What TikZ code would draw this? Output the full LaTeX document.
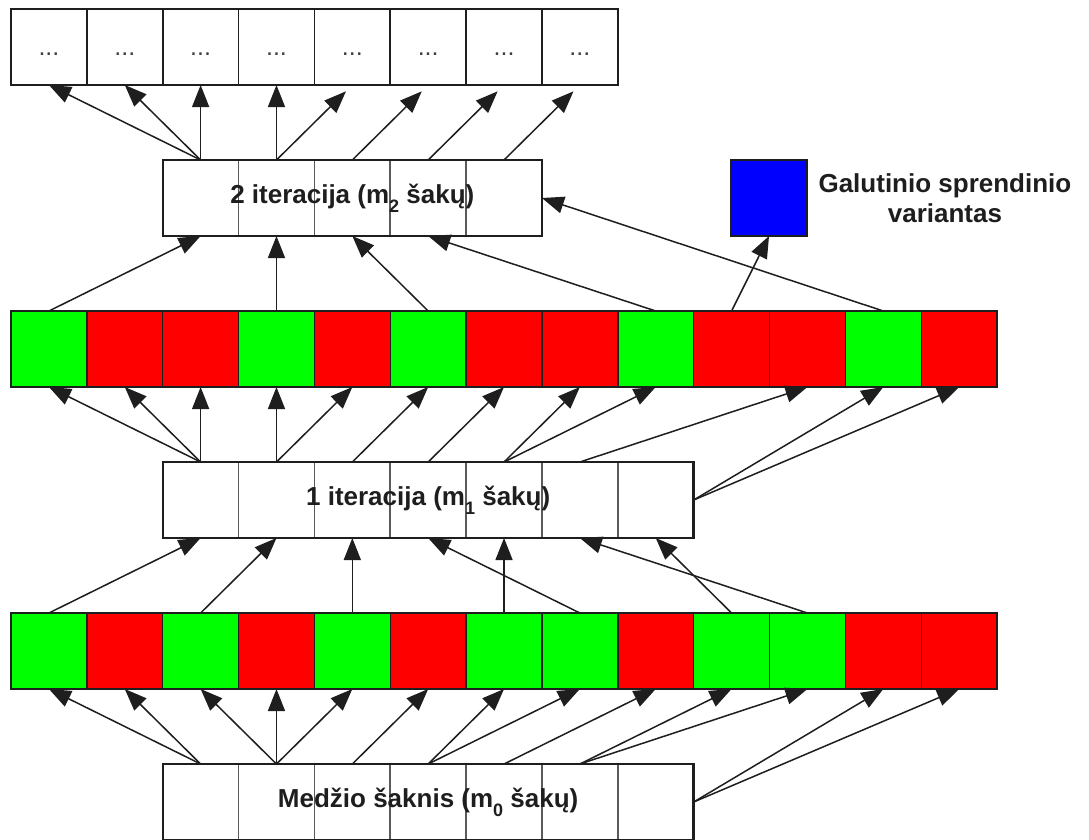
\documentclass[tikz,border=0pt]{standalone}
\usepackage{fontspec}
\setmainfont{Liberation Sans}
\usetikzlibrary{arrows.meta}
\definecolor{colg}{RGB}{0,255,0}
\definecolor{colr}{RGB}{255,0,0}
\definecolor{colb}{RGB}{0,0,255}
\definecolor{ink}{RGB}{30,30,30}
\definecolor{divider}{RGB}{90,90,90}
\def\cw{75.85}

\begin{document}
\begin{tikzpicture}[x=1pt,y=-1pt,
  cell/.style={draw=ink, line width=1.4pt, minimum width=\cw pt, minimum height=76pt,
    inner sep=0pt, outer sep=0pt, anchor=north west},
  wcell/.style={cell, fill=white, draw=divider, line width=1.7pt},
  frame/.style={draw=ink, line width=2.4pt, inner sep=0pt, outer sep=0pt,
    minimum height=76pt, anchor=north west},
  boxlabel/.style={font=\fontsize{26}{30}\selectfont\bfseries, text=ink},
  dotlabel/.style={font=\fontsize{25}{25}\selectfont, text=ink!85},
  arr/.style={draw=ink, line width=1.5pt, -{Triangle[length=22pt,width=17pt]}},
  short/.style={arr, shorten >=9pt}
]
\useasboundingbox (0,0) rectangle (1089,839);
\fill[white] (0,0) rectangle (1089,839);

% top row of unexplored branches
\foreach \i in {0,...,7}{
  \node[wcell, draw=ink] (t\i) at ({11+\cw*\i},9) {};
  \node[dotlabel, yshift=-7pt] (d\i) at (t\i.center) {...};
}
\node[frame, minimum width=8*\cw pt] (toprow) at (11,9) {};

% second iteration
\foreach \i in {0,...,4}
  \node[wcell] (p\i) at ({11+\cw*(\i+2)},160) {};
\node[frame, minimum width=5*\cw pt, boxlabel] (b2) at ({11+2*\cw},160)
  {2 iteracija (m\raisebox{-9pt}{\fontsize{18}{18}\selectfont 2} šakų)};

% final solution
\node[cell, fill=colb, line width=1.9pt, minimum width=76pt] (blue) at (731,160) {};
\node[boxlabel, anchor=west, align=center] (lbl) at (815,198)
  {Galutinio sprendinio\\variantas};

% evaluated branches after the first iteration
\foreach \c [count=\i from 0] in {g,r,r,g,r,g,r,r,g,r,r,g,r}
  \node[cell, fill=col\c] (m\i) at ({11+\cw*\i},311) {};
\node[frame, minimum width=13*\cw pt, line width=1.9pt] (r2row) at (11,311) {};

% first iteration
\foreach \i in {0,...,6}
  \node[wcell] (q\i) at ({11+\cw*(\i+2)},462) {};
\node[frame, minimum width=7*\cw pt, boxlabel] (b1) at ({11+2*\cw},462)
  {1 iteracija (m\raisebox{-9pt}{\fontsize{18}{18}\selectfont 1} šakų)};

% evaluated branches of the root
\foreach \c [count=\i from 0] in {g,r,g,r,g,r,g,g,r,g,g,r,r}
  \node[cell, fill=col\c] (n\i) at ({11+\cw*\i},613) {};
\node[frame, minimum width=13*\cw pt, line width=1.9pt] (r1row) at (11,613) {};

% tree root
\foreach \i in {0,...,6}
  \node[wcell] (s\i) at ({11+\cw*(\i+2)},764) {};
\node[frame, minimum width=7*\cw pt, boxlabel] (root) at ({11+2*\cw},764)
  {Medžio šaknis (m\raisebox{-9pt}{\fontsize{18}{18}\selectfont 0} šakų)};

% root -> first level branches
\foreach \a/\b in {s0/n0,s0/n1,s1/n2,s1/n3,s1/n4,s2/n5,s3/n6,s3/n7,s4/n8,s5/n9,s5/n10}
  \draw[arr] (\a.north) -- (\b.south);
\foreach \b in {n11,n12}
  \draw[arr] (root.east) -- (\b.south);

% good branches -> first iteration
\foreach \a/\b in {n0/q0,n2/q1,n4/q2,n7/q3,n6/q4,n10/q5,n9/q6}
  \draw[arr] (\a.north) -- (\b.south);

% first iteration -> branches
\foreach \a/\b in {q0/m0,q0/m1,q0/m2,q1/m3,q1/m4,q2/m5,q3/m6,q4/m7,q4/m8,q5/m10}
  \draw[arr] (\a.north) -- (\b.south);
\foreach \b in {m11,m12}
  \draw[arr] (b1.east) -- (\b.south);

% good branches -> second iteration
\foreach \a/\b in {m0/p0,m3/p1,m5/p2,m8/p3}
  \draw[arr] (\a.north) -- (\b.south);
\draw[arr] (m11.north) -- (b2.east);
\draw[arr] (m9.north) -- (blue.south);

% second iteration -> next branches
\foreach \a/\b in {p0/t0,p0/t1,p0/t2,p1/t3}
  \draw[arr] (\a.north) -- (\b.south);
\foreach \a/\b in {p1/t4,p2/t5,p3/t6,p4/t7}
  \draw[short] (\a.north) -- (\b.south);
\end{tikzpicture}
\end{document}
